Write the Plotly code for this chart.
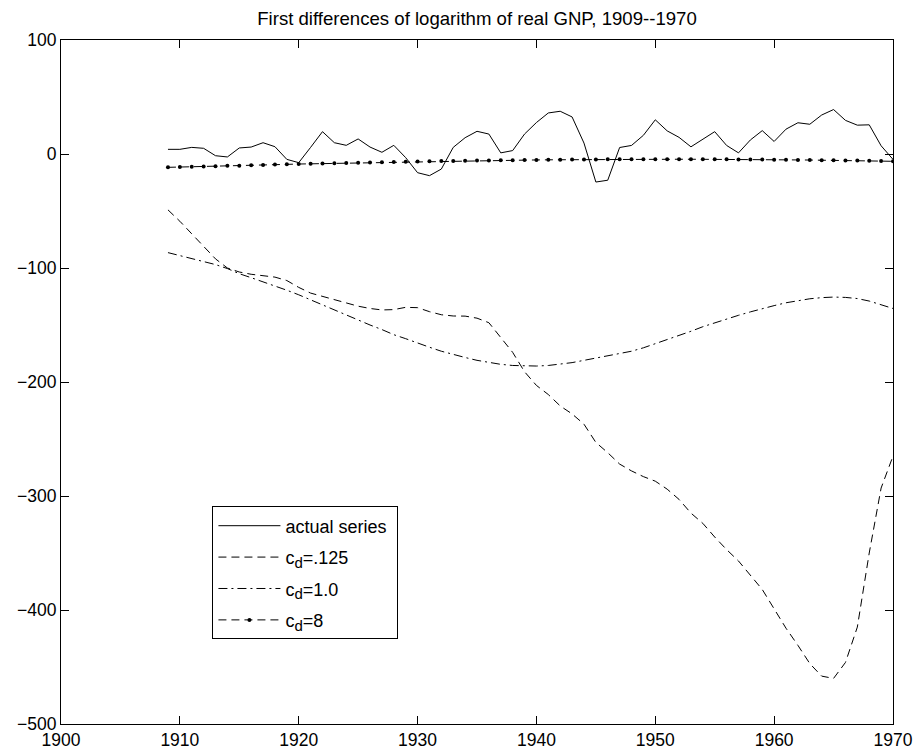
import plotly.graph_objects as go

years = list(range(1909, 1971))

actual = [4.1, 4.1, 5.8, 5.0, -1.5, -2.6, 5.3, 6.1, 9.9, 6.4,
          -4.7, -7.6, 5.8, 19.6, 9.9, 7.6, 13.2, 6.1, 1.5, 7.6,
          -3.2, -16.4, -19.0, -13.2, 5.8, 14.3, 19.9, 17.5, 1.0, 3.0,
          17.5, 27.6, 36.0, 37.5, 32.5, 9.6, -24.6, -23.0, 5.7, 7.5,
          16.4, 30.0, 20.3, 14.6, 6.3, 12.8, 19.6, 7.5, 1.0, 12.3,
          20.5, 11.0, 21.8, 27.4, 26.1, 34.2, 39.0, 29.5, 25.3, 25.6,
          7.2, -4.7]

cd_0125 = [-49, -59, -70, -81, -92, -100, -103.5, -105.5, -106.5, -108,
           -111, -117, -122, -125, -127.5, -130.5, -133.5, -135.5, -136.8, -136.5,
           -134.5, -134.8, -138.3, -141, -142.1, -142.2, -144, -148, -161, -174,
           -191, -203, -211, -221, -228, -237, -253, -262, -272, -278,
           -283, -287, -294, -303, -315, -324, -336, -347, -357, -369,
           -382, -399, -416, -431, -447, -458, -460, -446, -415, -350,
           -293, -265]

cd_1 = [-86.5, -89, -91.5, -94.5, -97, -100.5, -105, -108.5, -112, -116,
        -119.5, -123.5, -128, -132.5, -137, -141, -145.5, -150, -154, -158.5,
        -162, -166, -169.5, -173, -176, -178.5, -181, -183, -184.5, -185.5,
        -186, -186, -185.5, -184.5, -183, -181, -179, -177.5, -175.5, -173,
        -170, -166.5, -163, -159, -155.5, -151.5, -148, -144.5, -141.5, -138.5,
        -135.5, -133, -130.5, -128.5, -127, -126, -125.5, -125.8, -126.8, -129,
        -132, -135.5]

cd_8 = [-11.7, -11.5, -11.2, -11.0, -10.7, -10.4, -10.2, -9.9, -9.6, -9.3,
        -9.1, -8.8, -8.6, -8.3, -8.1, -7.9, -7.6, -7.4, -7.2, -7.0,
        -6.8, -6.6, -6.4, -6.2, -6.1, -5.9, -5.8, -5.6, -5.5, -5.4,
        -5.3, -5.2, -5.1, -5.0, -4.9, -4.8, -4.8, -4.7, -4.7, -4.6,
        -4.6, -4.6, -4.6, -4.6, -4.6, -4.6, -4.7, -4.7, -4.8, -4.8,
        -4.9, -5.0, -5.1, -5.2, -5.3, -5.4, -5.5, -5.7, -5.8, -6.0,
        -6.2, -6.4]

SUB = '<sub><span style="font-size:15px">d</span></sub>'
names = ["actual series\u00a0", "c" + SUB + "=.125", "c" + SUB + "=1.0", "c" + SUB + "=8"]

x_ticks = [1900, 1910, 1920, 1930, 1940, 1950, 1960, 1970]
y_ticks = [-500, -400, -300, -200, -100, 0, 100]

FONT = "Liberation Sans, Arial, Helvetica, sans-serif"

fig = go.Figure()
fig.add_trace(go.Scatter(x=years, y=actual, mode="lines", name=names[0],
                         line=dict(color="black", width=1), legendgroup="a"))
fig.add_trace(go.Scatter(x=years, y=cd_0125, mode="lines", name=names[1],
                         line=dict(color="black", width=1, dash="8px,5px"), legendgroup="b"))
fig.add_trace(go.Scatter(x=years, y=cd_1, mode="lines", name=names[2],
                         line=dict(color="black", width=1, dash="9px,4px,2px,4px"), legendgroup="c"))
fig.add_trace(go.Scatter(x=years, y=cd_8, mode="lines+markers", name=names[3],
                         line=dict(color="black", width=1, dash="8px,5px"),
                         marker=dict(color="black", size=4, symbol="circle"), legendgroup="d"))

axis_common = dict(showline=True, linecolor="black", linewidth=1, mirror="ticks",
                   ticks="inside", ticklen=8, tickcolor="black", tickwidth=1,
                   showgrid=False, zeroline=False, automargin=False,
                   tickfont=dict(family=FONT, size=17.5, color="black"))

fig.update_layout(
    width=919, height=755,
    margin=dict(l=61, r=26, t=40, b=31, pad=0, autoexpand=False),
    paper_bgcolor="white", plot_bgcolor="white",
    title=dict(text="First differences of logarithm of real GNP, 1909--1970",
               x=0.5, xref="paper", xanchor="center",
               y=1 - 18 / 755, yref="container", yanchor="middle",
               font=dict(family=FONT, size=18.6, color="black"),
               automargin=False),
    xaxis=dict(range=[1900, 1970], tickvals=x_ticks, ticktext=[str(v) for v in x_ticks],
               ticklabelstandoff=0, **axis_common),
    yaxis=dict(range=[-500, 100], tickvals=y_ticks, **axis_common),
    showlegend=True,
    legend=dict(x=0.182, y=0.318, xanchor="left", yanchor="top",
                bordercolor="black", borderwidth=1, bgcolor="white",
                font=dict(family=FONT, size=18, color="black"),
                traceorder="grouped", tracegroupgap=5, itemwidth=62,
                entrywidth=132, entrywidthmode="pixels"),
)

fig.write_html("out.html")
